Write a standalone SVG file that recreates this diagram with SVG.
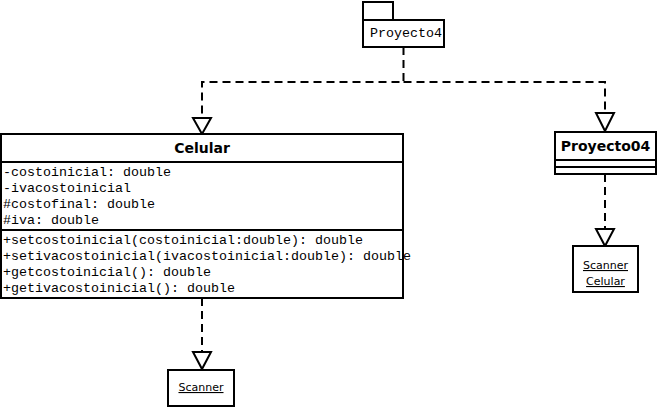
<svg xmlns="http://www.w3.org/2000/svg" width="657" height="408" viewBox="0 0 657 408">
<style>
.box{fill:#fff;stroke:#000;stroke-width:2}
.line{stroke:#000;stroke-width:2;fill:none}
.mono{font-family:"Liberation Mono","Courier New",monospace;font-size:13.33px;fill:#000}
.title{font-family:"DejaVu Sans",sans-serif;font-size:14px;font-weight:bold;fill:#000;text-anchor:middle}
.obj{font-family:"DejaVu Sans",sans-serif;font-size:11px;fill:#000;text-anchor:middle;text-decoration:underline}
.dash{stroke:#000;stroke-width:2;fill:none;stroke-dasharray:8 5}
.head{fill:#fff;stroke:#000;stroke-width:2}
</style>
<rect width="657" height="408" fill="#fff"/>
<g id="connectors">
<path class="dash" d="M403.5,47 V82 H202 V118"/>
<path class="dash" d="M403.5,82 H605 V113"/>
<path class="dash" d="M605,174 V229"/>
<path class="dash" d="M202,298 V352"/>
<polygon class="head" points="193,118 211,118 202,134"/>
<polygon class="head" points="596,113 614,113 605,131"/>
<polygon class="head" points="596,229 614,229 605,246"/>
<polygon class="head" points="193,352 211,352 202,369"/>
</g>
<g id="Proyecto4">
<rect class="box" x="363" y="2" width="30" height="18"/>
<rect class="box" x="363" y="20" width="81" height="27"/>
<text class="mono" x="370" y="37">Proyecto4</text>
</g>
<g id="Celular">
<rect class="box" x="1" y="134" width="402" height="164"/>
<line class="line" x1="1" y1="162" x2="403" y2="162"/>
<line class="line" x1="1" y1="230" x2="403" y2="230"/>
<text class="title" x="202" y="153">Celular</text>
<text class="mono" x="3" y="176">-costoinicial: double</text>
<text class="mono" x="3" y="192">-ivacostoinicial</text>
<text class="mono" x="3" y="208">#costofinal: double</text>
<text class="mono" x="3" y="224">#iva: double</text>
<text class="mono" x="3" y="244">+setcostoinicial(costoinicial:double): double</text>
<text class="mono" x="3" y="260">+setivacostoinicial(ivacostoinicial:double): double</text>
<text class="mono" x="3" y="276">+getcostoinicial(): double</text>
<text class="mono" x="3" y="292">+getivacostoinicial(): double</text>
</g>
<g id="Proyecto04">
<rect class="box" x="555" y="132" width="101" height="42"/>
<line class="line" x1="555" y1="160" x2="656" y2="160"/>
<line class="line" x1="555" y1="167" x2="656" y2="167"/>
<text class="title" x="605.5" y="151">Proyecto04</text>
</g>
<g id="ScannerCelular">
<rect class="box" x="573" y="246" width="65" height="46"/>
<text class="obj" x="605.5" y="269">Scanner</text>
<text class="obj" x="605.5" y="285">Celular</text>
</g>
<g id="Scanner">
<rect class="box" x="168" y="370" width="66" height="36"/>
<text class="obj" x="201" y="391">Scanner</text>
</g>
</svg>
